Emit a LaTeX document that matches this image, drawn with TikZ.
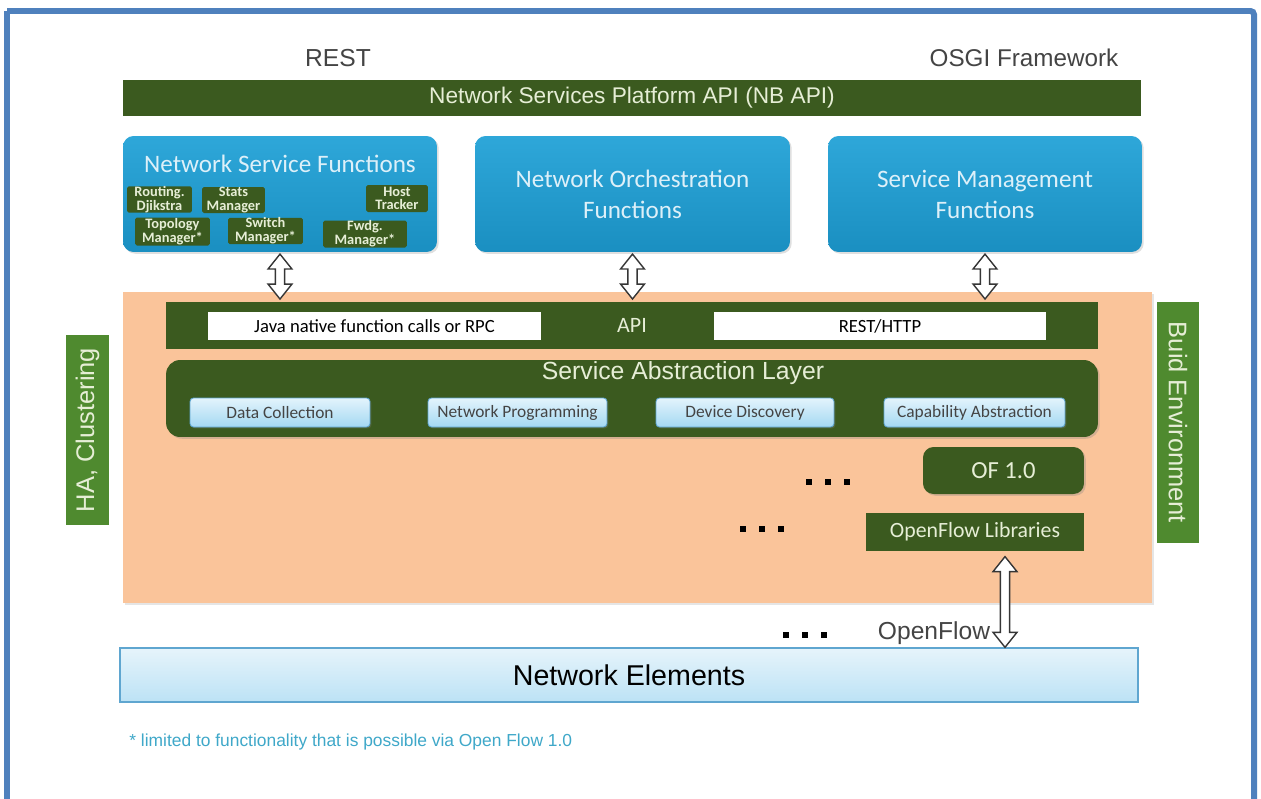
\documentclass[tikz,border=0pt]{standalone}
\usepackage{fontspec}
\setmainfont{Liberation Sans}
\newfontfamily\calfont{Carlito}
\usetikzlibrary{calc,shadows}
\definecolor{frameblue}{HTML}{4F81BD}
\definecolor{dkgreen}{HTML}{3B5A1F}
\definecolor{boxtop}{HTML}{2EA7D9}
\definecolor{boxbot}{HTML}{1A8FC1}
\definecolor{orangebg}{HTML}{FAC49A}
\definecolor{sidegreen}{HTML}{4F8A2F}
\definecolor{greentext}{HTML}{E6EED6}
\definecolor{bluetext}{HTML}{DDF0F9}
\definecolor{lbtop}{HTML}{E3F4FC}
\definecolor{lbbot}{HTML}{A4D8F2}
\definecolor{lbborder}{HTML}{5FA6D0}
\definecolor{netop}{HTML}{E6F4FB}
\definecolor{nebot}{HTML}{BCE2F5}
\definecolor{greytext}{HTML}{444444}
\definecolor{foot}{HTML}{3FA8C9}
\tikzset{
  bluebox/.style={rounded corners=6pt, top color=boxtop, bottom color=boxbot, draw=none,
    drop shadow={opacity=0.25, shadow xshift=1pt, shadow yshift=-1pt}},
  greenbar/.style={fill=dkgreen, draw=none, text=greentext},
  tinybox/.style={fill=dkgreen, draw=none, rounded corners=1pt, text=greentext, font=\calfont\bfseries\fontsize{8.2}{7.8}\selectfont, align=center, inner sep=0pt},
  whitebox/.style={fill=white, draw=none, font=\calfont\fontsize{10.6}{12}\selectfont, text=black},
  lbbox/.style={top color=lbtop, bottom color=lbbot, draw=lbborder, line width=0.5pt, rounded corners=2pt, font=\calfont\fontsize{9.9}{11}\selectfont, text=greytext,
    drop shadow={opacity=0.3, shadow xshift=0.8pt, shadow yshift=-0.8pt}},
  bluetitle/.style={text=bluetext, font=\calfont\fontsize{14.3}{17.6}\selectfont, align=center},
  sidebox/.style={fill=sidegreen, draw=none, text=greentext, font=\fontsize{14.5}{16}\selectfont},
  hollowarrow/.style={draw=greytext!80!black, fill=white, line width=0.8pt, line join=miter},
  dotsq/.style={fill=black, draw=none, minimum size=3.4pt, inner sep=0pt}
}
\newcommand\dblarrow[2]{%
  \draw[hollowarrow] let \p1=(#1), \p2=(#2) in
    (\x1,\y1) -- (\x1+6.8pt,\y1-8.5pt) -- (\x1+2.6pt,\y1-8.5pt) -- (\x1+2.6pt,\y2+8.5pt) --
    (\x1+6.8pt,\y2+8.5pt) -- (\x1,\y2) -- (\x1-6.8pt,\y2+8.5pt) -- (\x1-2.6pt,\y2+8.5pt) --
    (\x1-2.6pt,\y1-8.5pt) -- (\x1-6.8pt,\y1-8.5pt) -- cycle;}
\begin{document}
\begin{tikzpicture}[x=0.02cm,y=-0.02cm]
\useasboundingbox (0,0) rectangle (1261,798);
\fill[white] (0,0) rectangle (1261,798);
% outer frame
\draw[frameblue, line width=3.4pt, rounded corners=2pt] (7,11) -- (1254,11) -- (1254,810) (7,810) -- (7,11);
% top labels
\node[text=greytext, font=\fontsize{14}{16}\selectfont] (rest) at (338,58) {REST};
\node[text=greytext, font=\fontsize{13.8}{16}\selectfont] (osgi) at (1024,58) {OSGI Framework};
% NB API
\node[greenbar, minimum width=20.36cm, minimum height=0.72cm, font=\fontsize{12.9}{14}\selectfont] (nbapi) at (632,98) {Network Services Platform API (NB API)};
% blue boxes
\node[bluebox, minimum width=6.28cm, minimum height=2.32cm] (nsf) at (280,194) {};
\node[bluetitle] (nsft) at (280,164) {Network Service Functions};
\node[bluebox, minimum width=6.30cm, minimum height=2.32cm, bluetitle] (nof) at (632.5,194) {Network Orchestration\\Functions};
\node[bluebox, minimum width=6.28cm, minimum height=2.32cm, bluetitle] (smf) at (985,194) {Service Management\\Functions};
% tiny boxes
\node[tinybox, minimum width=1.30cm, minimum height=0.50cm] (rout) at (159.5,199.5) {Routing.\\Djikstra};
\node[tinybox, minimum width=1.26cm, minimum height=0.52cm] (stats) at (233.5,200) {Stats\\Manager};
\node[tinybox, minimum width=1.24cm, minimum height=0.54cm] (host) at (397,198.5) {Host\\Tracker};
\node[tinybox, minimum width=1.50cm, minimum height=0.56cm] (topo) at (172.5,231.5) {Topology\\Manager*};
\node[tinybox, minimum width=1.50cm, minimum height=0.52cm] (switch) at (265.5,231) {Switch\\Manager*};
\node[tinybox, minimum width=1.68cm, minimum height=0.54cm] (fwdg) at (365,234) {Fwdg.\\Manager*};
% orange background
\node[fill=orangebg, draw=none, minimum width=20.58cm, minimum height=6.22cm,
  drop shadow={opacity=0.2, shadow xshift=1pt, shadow yshift=-1pt}] (orange) at (637.5,447.5) {};
% API bar
\node[greenbar, minimum width=18.64cm, minimum height=0.94cm, font=\calfont\fontsize{12.5}{14}\selectfont] (api) at (632,325.5) {API};
\node[whitebox, minimum width=6.66cm, minimum height=0.56cm] (java) at (374.5,326) {Java native function calls or RPC};
\node[whitebox, minimum width=6.64cm, minimum height=0.56cm] (resthttp) at (880,326) {REST/HTTP};
% SAL
\node[greenbar, rounded corners=8pt, minimum width=18.64cm, minimum height=1.54cm,
  drop shadow={opacity=0.3, shadow xshift=1pt, shadow yshift=-1pt}] (sal) at (632,398.5) {};
\node[text=greentext, font=\fontsize{14.1}{16}\selectfont] (salt) at (683,373) {Service Abstraction Layer};
\node[lbbox, minimum width=3.60cm, minimum height=0.58cm] (dc) at (280,412.5) {Data Collection};
\node[lbbox, minimum width=3.58cm, minimum height=0.58cm] (np) at (517.5,412.5) {Network Programming};
\node[lbbox, minimum width=3.56cm, minimum height=0.58cm] (dd) at (745,412.5) {Device Discovery};
\node[lbbox, minimum width=3.62cm, minimum height=0.58cm] (ca) at (974.5,412.5) {Capability Abstraction};
% OF 1.0 and libraries
\node[greenbar, rounded corners=6pt, minimum width=3.22cm, minimum height=0.94cm, font=\calfont\fontsize{14}{16}\selectfont,
  drop shadow={opacity=0.3, shadow xshift=1pt, shadow yshift=-1pt}] (of10) at (1003.5,470.5) {OF 1.0};
\node[greenbar, minimum width=4.36cm, minimum height=0.76cm, font=\calfont\fontsize{12.4}{14}\selectfont] (oflib) at (975,532) {OpenFlow Libraries};
% dots
\foreach \n/\cx/\cy in {d1/828/482, d2/762/529, d3/805/635} {
  \node[dotsq] (\n a) at (\cx-19,\cy) {};
  \node[dotsq] (\n b) at (\cx,\cy) {};
  \node[dotsq] (\n c) at (\cx+19,\cy) {};
}
% Network Elements
\node[top color=netop, bottom color=nebot, draw=lbborder, line width=0.8pt, minimum width=20.36cm, minimum height=1.08cm,
  font=\fontsize{16.3}{18}\selectfont, text=black] (ne) at (629,675) {Network Elements};
\node[text=greytext, font=\fontsize{14}{16}\selectfont] (ofl) at (934,633) {OpenFlow};
% side boxes
\node[sidebox, minimum width=3.80cm, minimum height=0.86cm, rotate=90] (ha) at (87.5,430) {HA, Clustering};
\node[sidebox, minimum width=4.82cm, minimum height=0.84cm, rotate=-90] (build) at (1178,422.5) {Buid Environment};
% footnote
\node[anchor=west, text=foot, font=\fontsize{9.9}{11}\selectfont, inner sep=0pt] (fn) at (129,742) {* limited to functionality that is possible via Open Flow 1.0};
% arrows
\coordinate (a1t) at ([yshift=-1pt]nsf.south);
\coordinate (a1b) at (nsf.south |- 0,299);
\coordinate (a2t) at ([yshift=-1pt]nof.south);
\coordinate (a2b) at (nof.south |- 0,299);
\coordinate (a3t) at ([yshift=-1pt]smf.south);
\coordinate (a3b) at (smf.south |- 0,299);
\coordinate (a4t) at ([xshift=0.6cm,yshift=-3pt]oflib.south);
\coordinate (a4b) at (a4t |- ne.north);
\dblarrow{a1t}{a1b}
\dblarrow{a2t}{a2b}
\dblarrow{a3t}{a3b}
\dblarrow{a4t}{a4b}
\end{tikzpicture}
\end{document}
